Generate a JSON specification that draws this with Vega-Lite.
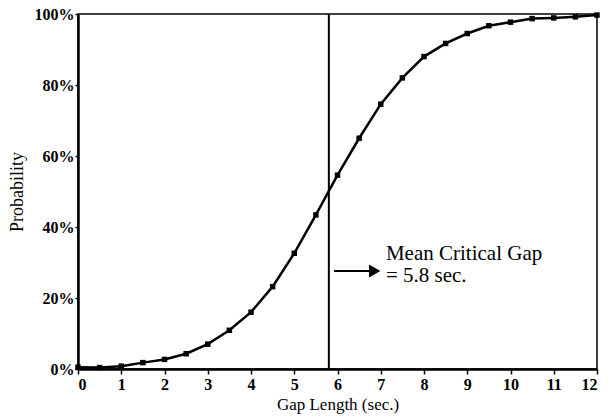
{
  "$schema": "https://vega.github.io/schema/vega-lite/v6.json",
  "width": 519,
  "height": 355,
  "autosize": {"type": "none"},
  "padding": {"left": 78, "top": 14, "right": 17, "bottom": 48},
  "background": "white",
  "config": {
    "view": {"stroke": "black", "strokeWidth": 1.5},
    "font": "Liberation Serif",
    "axis": {
      "domainColor": "black", "domainWidth": 2.5, "tickColor": "black", "tickWidth": 1.5,
      "labelColor": "black", "titleColor": "black", "labelFont": "Liberation Serif",
      "titleFont": "Liberation Serif", "grid": false
    }
  },
  "datasets": {
    "curve": [
      {"gap": 0, "p": 0.005}, {"gap": 0.5, "p": 0.004}, {"gap": 1, "p": 0.008},
      {"gap": 1.5, "p": 0.018}, {"gap": 2, "p": 0.027}, {"gap": 2.5, "p": 0.043},
      {"gap": 3, "p": 0.07}, {"gap": 3.5, "p": 0.109}, {"gap": 4, "p": 0.16},
      {"gap": 4.5, "p": 0.232}, {"gap": 5, "p": 0.326}, {"gap": 5.5, "p": 0.434},
      {"gap": 6, "p": 0.546}, {"gap": 6.5, "p": 0.65}, {"gap": 7, "p": 0.746},
      {"gap": 7.5, "p": 0.82}, {"gap": 8, "p": 0.88}, {"gap": 8.5, "p": 0.917},
      {"gap": 9, "p": 0.945}, {"gap": 9.5, "p": 0.967}, {"gap": 10, "p": 0.977},
      {"gap": 10.5, "p": 0.987}, {"gap": 11, "p": 0.989}, {"gap": 11.5, "p": 0.992},
      {"gap": 12, "p": 0.997}
    ],
    "mean": [{"gap": 5.8}],
    "arrow": [{"gap": 5.92, "gap2": 6.8, "p": 0.276}],
    "head": [{"gap": 6.86, "p": 0.276}],
    "labels": [
      {"gap": 7.12, "p": 0.306, "text": "Mean Critical Gap"},
      {"gap": 7.12, "p": 0.244, "text": "= 5.8 sec."}
    ]
  },
  "layer": [
    {
      "data": {"name": "curve"},
      "mark": {"type": "line", "color": "black", "strokeWidth": 2.5},
      "encoding": {
        "x": {
          "field": "gap", "type": "quantitative",
          "scale": {"domain": [0, 12], "nice": false},
          "axis": {
            "values": [0, 1, 2, 3, 4, 5, 6, 7, 8, 9, 10, 11, 12],
            "title": "Gap Length (sec.)", "titleFontSize": 17, "titleFontWeight": "normal",
            "titlePadding": 4, "labelFontSize": 16, "labelFontWeight": "bold",
            "tickSize": 5, "labelPadding": 2
          }
        },
        "y": {
          "field": "p", "type": "quantitative",
          "scale": {"domain": [0, 1], "nice": false},
          "axis": {
            "values": [0, 0.2, 0.4, 0.6, 0.8, 1], "format": ".0%",
            "title": "Probability", "titleFontSize": 18, "titleFontWeight": "normal",
            "titlePadding": 8, "labelFontSize": 16, "labelFontWeight": "bold",
            "tickSize": 3, "labelPadding": 1
          }
        }
      }
    },
    {
      "data": {"name": "curve"},
      "mark": {"type": "point", "shape": "square", "filled": true, "color": "black", "size": 30, "opacity": 1},
      "encoding": {
        "x": {"field": "gap", "type": "quantitative"},
        "y": {"field": "p", "type": "quantitative"}
      }
    },
    {
      "data": {"name": "mean"},
      "mark": {"type": "rule", "color": "black", "strokeWidth": 2},
      "encoding": {"x": {"field": "gap", "type": "quantitative"}}
    },
    {
      "data": {"name": "arrow"},
      "mark": {"type": "rule", "color": "black", "strokeWidth": 2},
      "encoding": {
        "x": {"field": "gap", "type": "quantitative"},
        "x2": {"field": "gap2"},
        "y": {"field": "p", "type": "quantitative"}
      }
    },
    {
      "data": {"name": "head"},
      "mark": {"type": "point", "shape": "triangle-right", "filled": true, "color": "black", "size": 170, "opacity": 1},
      "encoding": {
        "x": {"field": "gap", "type": "quantitative"},
        "y": {"field": "p", "type": "quantitative"}
      }
    },
    {
      "data": {"name": "labels"},
      "mark": {"type": "text", "align": "left", "baseline": "alphabetic", "fontSize": 21, "color": "black", "font": "Liberation Serif"},
      "encoding": {
        "x": {"field": "gap", "type": "quantitative"},
        "y": {"field": "p", "type": "quantitative"},
        "text": {"field": "text"}
      }
    }
  ]
}
